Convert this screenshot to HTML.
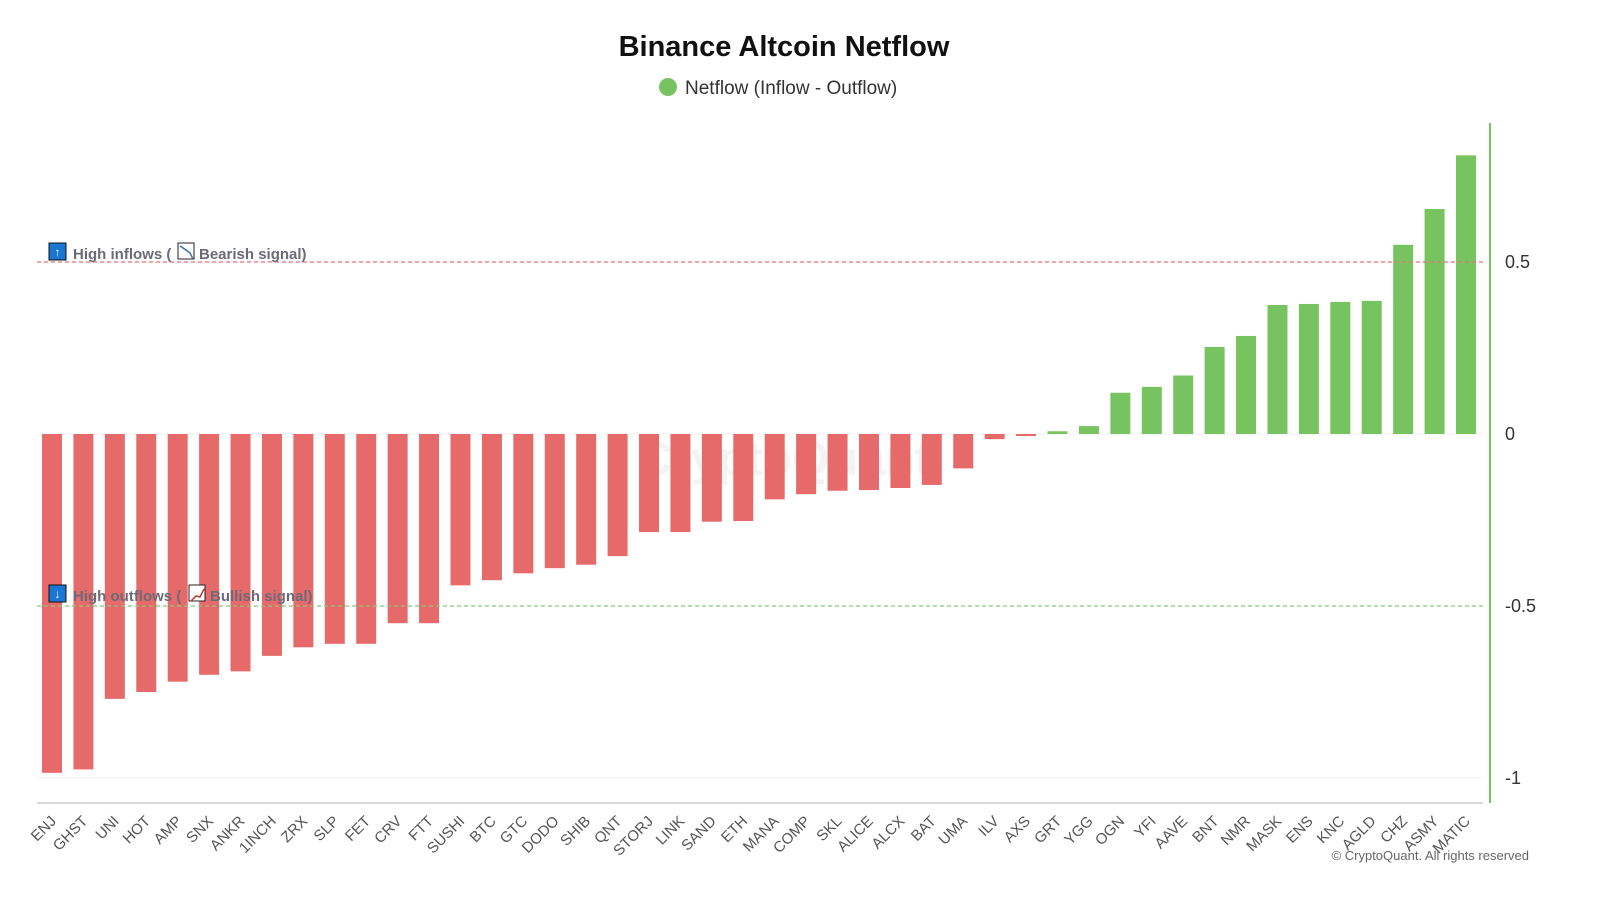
<!DOCTYPE html>
<html><head><meta charset="utf-8"><style>
html,body{margin:0;padding:0;background:#fff;}
svg{display:block;font-family:"Liberation Sans",sans-serif;}
</style></head><body>
<svg id="chart" width="1600" height="900" viewBox="0 0 1600 900">
<rect width="1600" height="900" fill="#fff"/>
<text x="784" y="56" text-anchor="middle" font-size="29" font-weight="bold" fill="#111">Binance Altcoin Netflow</text>
<g>
<circle cx="668" cy="87" r="9" fill="#77c35f"/>
<text x="685" y="94" font-size="19" fill="#333">Netflow (Inflow - Outflow)</text>
</g>
<text x="784" y="475" text-anchor="middle" font-size="48" font-weight="bold" fill="#ddd" opacity="0.35">CryptoQuant</text>
<g id="grid"></g>
<g id="bars"></g>
<g id="xlabels"></g>
<g id="yaxis"></g>
<g id="annot"></g>
<text x="1529" y="860" text-anchor="end" font-size="13" fill="#666">© CryptoQuant. All rights reserved</text>
</svg>
<script>
const categories=["ENJ","GHST","UNI","HOT","AMP","SNX","ANKR","1INCH","ZRX","SLP","FET","CRV","FTT","SUSHI","BTC","GTC","DODO","SHIB","QNT","STORJ","LINK","SAND","ETH","MANA","COMP","SKL","ALICE","ALCX","BAT","UMA","ILV","AXS","GRT","YGG","OGN","YFI","AAVE","BNT","NMR","MASK","ENS","KNC","AGLD","CHZ","ASMY","MATIC"];
const netflow=[-0.985,-0.975,-0.77,-0.75,-0.72,-0.70,-0.69,-0.645,-0.62,-0.61,-0.61,-0.55,-0.55,-0.44,-0.425,-0.405,-0.39,-0.38,-0.355,-0.285,-0.285,-0.255,-0.253,-0.19,-0.175,-0.165,-0.163,-0.157,-0.148,-0.10,-0.015,-0.006,0.008,0.023,0.12,0.137,0.17,0.253,0.285,0.375,0.378,0.384,0.387,0.55,0.654,0.81];
const yTicks=[0.5,0,-0.5,-1];
const yTickLabels=["0.5","0","-0.5","-1"];
const thresholds=[0.5,-0.5];

const NS="http://www.w3.org/2000/svg";
const y=v=>434-v*344;
const x0=52,step=(1466-52)/(categories.length-1);
const x=i=>x0+i*step;
function mk(t,a,p){const e=document.createElementNS(NS,t);for(const k in a)e.setAttribute(k,a[k]);p.appendChild(e);return e;}
const grid=document.getElementById('grid'),bars=document.getElementById('bars'),xl=document.getElementById('xlabels'),ya=document.getElementById('yaxis'),an=document.getElementById('annot');

yTicks.forEach((v,i)=>{
 const l=mk('line',{x1:37,x2:1483,y1:y(v),y2:y(v),stroke:'#f0f0f0'},grid);
 
 
 const t=mk('text',{x:1505,y:y(v)+6,'font-size':18,fill:'#333'},ya);
 t.textContent=yTickLabels[i];
 
 
});
const ax=mk('line',{x1:1490,x2:1490,y1:123,y2:803,stroke:'#77c35f','stroke-width':2},ya);


const xa=mk('line',{x1:37,x2:1483,y1:803,y2:803,stroke:'#ccc','stroke-width':1.5},grid);



netflow.forEach((v,i)=>{
 const top=Math.min(y(v),y(0)),h=Math.abs(y(v)-y(0));
 const r=mk('rect',{x:x(i)-10,y:top,width:20,height:Math.max(h,1),fill:v>=0?'#77c35f':'#e76a6a'},bars);
 
 
 const t=mk('text',{x:x(i)+5,y:822,'text-anchor':'end','font-size':15,fill:'#555',transform:`rotate(-45 ${x(i)+5} 822)`},xl);
 t.textContent=categories[i];
 
 
});

const cols=['#e57373','#8bc77a'];
thresholds.forEach((v,i)=>{
 const l=mk('line',{x1:37,x2:1483,y1:y(v),y2:y(v),stroke:cols[i],'stroke-dasharray':'4,3','stroke-width':1.2},an);
 
 
});
function label(yy,arrow,txt1,txt2,name,iconX){
 const g=mk('g',{},an);
 
 
 mk('rect',{x:49,y:yy-16,width:17,height:17,fill:'#1976d2',stroke:'#111'},g);
 const a=mk('text',{x:57.5,y:yy-3,'text-anchor':'middle','font-size':12,fill:'#fff','font-weight':'bold'},g);a.textContent=arrow;
 const t=mk('text',{x:73,y:yy,'font-size':15,'font-weight':'bold',fill:'#6b6b78'},g);t.textContent=txt1;
 mk('rect',{x:iconX,y:yy-16,width:16,height:16,fill:'#fff',stroke:'#222'},g);
 const t2=mk('text',{x:iconX+21,y:yy,'font-size':15,'font-weight':'bold',fill:'#6b6b78'},g);t2.textContent=txt2;
 return g;
}
const g1=label(259,'↑','High inflows (','Bearish signal)','high-inflows-annotation',178);
mk('polyline',{points:'180,246 186,250 190,253 193,259',fill:'none',stroke:'#3a6fb0','stroke-width':1.5},g1);
const g2=label(601,'↓','High outflows (','Bullish signal)','high-outflows-annotation',189);
mk('polyline',{points:'191,601 196,596 200,597 204,589',fill:'none',stroke:'#c0392b','stroke-width':1.5},g2);
</script>
</body></html>
